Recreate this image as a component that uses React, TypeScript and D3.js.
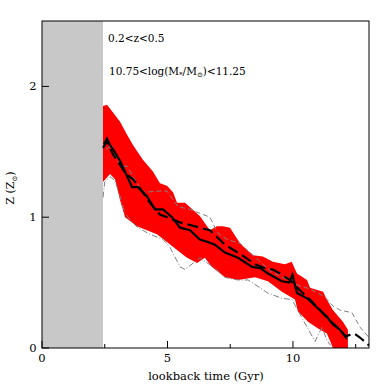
import React from "react";
import * as d3 from "d3";

// x = lookback time (Gyr), y = Z (Zsun)
const bandUpper: [number, number][] = [
  [2.43, 1.85], [2.59, 1.86], [2.83, 1.8], [3.11, 1.73], [3.39, 1.63], [3.63, 1.55],
  [4.02, 1.44], [4.42, 1.35], [4.7, 1.26], [4.98, 1.24], [5.22, 1.19], [5.38, 1.11],
  [5.7, 1.11], [6.29, 1.01], [6.69, 0.9], [6.97, 0.93], [7.21, 0.93], [7.49, 0.92],
  [7.89, 0.8], [8.17, 0.75], [8.41, 0.71], [8.8, 0.7], [9.2, 0.66], [9.68, 0.64],
  [9.95, 0.66], [10.16, 0.57], [10.56, 0.52], [10.68, 0.46], [11.2, 0.43], [11.35, 0.37],
  [11.59, 0.29], [11.99, 0.2], [12.19, 0.14], [12.19, 0],
];
const bandLower: [number, number][] = [
  [2.43, 1.27], [2.71, 1.33], [2.91, 1.29], [3.11, 1.13], [3.31, 1.0], [3.51, 0.97],
  [3.78, 0.93], [4.18, 0.9], [4.58, 0.87], [4.98, 0.81], [5.38, 0.75], [5.78, 0.69],
  [6.18, 0.65], [6.49, 0.69], [6.77, 0.62], [7.29, 0.54], [7.81, 0.52], [8.49, 0.54],
  [9.0, 0.51], [9.56, 0.43], [10.08, 0.37], [10.2, 0.28], [10.6, 0.2], [11.0, 0.15],
  [11.35, 0.11], [11.51, 0.04], [11.59, 0],
];
const medianLine: [number, number][] = [
  [2.47, 1.56], [2.59, 1.6], [2.71, 1.55], [2.83, 1.52], [3.11, 1.43], [3.35, 1.33],
  [3.59, 1.23], [3.82, 1.23], [4.18, 1.16], [4.5, 1.06], [4.82, 1.06], [5.18, 1.0],
  [5.5, 0.92], [5.9, 0.9], [6.29, 0.83], [6.61, 0.81], [6.89, 0.79], [7.29, 0.73],
  [7.81, 0.69], [8.37, 0.62], [8.7, 0.61], [9.0, 0.57], [9.56, 0.51], [9.85, 0.5],
  [9.98, 0.56], [10.16, 0.42], [10.56, 0.38], [10.96, 0.31], [11.35, 0.24], [11.59, 0.18],
  [11.87, 0.14], [12.15, 0.07],
];
const meanLine: [number, number][] = [
  [2.43, 1.53], [2.59, 1.58], [2.83, 1.48], [3.11, 1.4], [3.35, 1.33], [3.63, 1.29],
  [4.02, 1.19], [4.3, 1.11], [4.7, 1.02], [5.1, 0.99], [5.5, 0.96], [5.9, 0.94],
  [6.29, 0.92], [6.69, 0.9], [7.29, 0.79], [7.97, 0.71], [8.49, 0.64], [8.88, 0.61],
  [9.2, 0.6], [9.48, 0.57], [9.88, 0.52], [10.28, 0.44], [10.68, 0.37], [11.08, 0.29],
  [11.47, 0.21], [11.87, 0.14], [12.1, 0.09], [12.27, 0.1], [12.45, 0.11], [12.67, 0.08],
  [13.03, 0.02],
];
const upperGray: [number, number][] = [
  [2.55, 1.52], [2.79, 1.55], [3.0, 1.43], [3.19, 1.39], [3.39, 1.39], [3.63, 1.31],
  [4.02, 1.19], [4.7, 1.2], [4.98, 1.2], [5.42, 1.08], [5.9, 1.06], [6.29, 1.03],
  [6.69, 1.0], [7.0, 0.88], [7.37, 0.83], [7.89, 0.8], [8.57, 0.68], [9.16, 0.58],
  [9.7, 0.53], [10.2, 0.48], [10.7, 0.45], [11.27, 0.39], [11.6, 0.32], [11.87, 0.29],
  [12.35, 0.27], [12.67, 0.16], [13.03, 0.08],
];
const dashDotGray: [number, number][] = [
  [2.43, 1.15], [2.5, 1.27], [2.71, 1.31], [2.91, 1.28], [3.11, 1.16], [3.31, 1.03],
  [3.51, 0.98], [3.82, 0.92], [4.3, 0.87], [4.82, 0.83], [5.1, 0.77], [5.5, 0.62],
  [5.7, 0.6], [5.9, 0.63], [6.29, 0.69], [6.89, 0.61], [7.29, 0.54], [7.81, 0.52],
  [8.21, 0.52], [8.61, 0.47], [9.0, 0.42], [9.56, 0.38], [9.96, 0.37], [10.36, 0.23],
  [10.88, 0.05], [11.16, 0.16], [11.35, 0.06], [11.5, 0.02],
];

const greyLimit = 2.43;
const xMajor = [0, 5, 10];
const xMinor = [2.5, 7.5, 12.5];
const yMajor = [0, 1, 2];

const W = 390;
const H = 390;
const font = "DejaVu Serif";

const App = () => {
  const x = d3.scaleLinear().domain([0, 13.03]).range([42, 369]);
  const y = d3.scaleLinear().domain([0, 2.5]).range([348, 21]);
  const line = d3
    .line<[number, number]>()
    .x((d) => x(d[0]))
    .y((d) => y(d[1]));

  const band = [...bandUpper, ...bandLower.slice().reverse()];

  return (
    <svg
      width={W}
      height={H}
      style={{ position: "absolute", left: 0, top: 0, background: "#fff" }}
      fontFamily={font}
    >
      <defs>
        <clipPath id="plot">
          <rect x={42} y={21} width={327} height={327} />
        </clipPath>
      </defs>

      {/* excluded region */}
      <rect x={x(0)} y={y(2.5)} width={x(greyLimit) - x(0)} height={y(0) - y(2.5)} fill="#c8c8c8" />

      <g clipPath="url(#plot)">
        <path d={line(band) + "Z"} fill="#ff0000" stroke="none" />
        <path d={line(dashDotGray) ?? ""} fill="none" stroke="#808080" strokeWidth={1} strokeDasharray="6,2,1,2" />
        <path d={line(upperGray) ?? ""} fill="none" stroke="#808080" strokeWidth={1} strokeDasharray="5,3" />
        <path d={line(meanLine) ?? ""} fill="none" stroke="#000" strokeWidth={2.2} strokeDasharray="11,5" />
        <path d={line(medianLine) ?? ""} fill="none" stroke="#000" strokeWidth={2.2} />
      </g>

      {/* frame */}
      <rect x={42} y={21} width={327} height={327} fill="none" stroke="#000" strokeWidth={1} />

      {/* x ticks */}
      {xMajor.map((t) => (
        <g key={`xm-${t}`}>
          <line x1={x(t)} x2={x(t)} y1={348} y2={341} stroke="#000" />
          <text x={x(t)} y={362} textAnchor="middle" fontSize={11.5}>
            {t}
          </text>
        </g>
      ))}
      {xMinor.map((t) => (
        <line key={`xn-${t}`} x1={x(t)} x2={x(t)} y1={348} y2={344} stroke="#000" />
      ))}

      {/* y ticks */}
      {yMajor.map((t) => (
        <g key={`ym-${t}`}>
          <line x1={42} x2={49} y1={y(t)} y2={y(t)} stroke="#000" />
          <text x={33} y={y(t) + 4} textAnchor="middle" fontSize={11.5}>
            {t}
          </text>
        </g>
      ))}

      {/* axis labels */}
      <text x={206} y={380} textAnchor="middle" fontSize={11.5}>
        lookback time (Gyr)
      </text>
      <text transform="translate(14,188) rotate(-90)" textAnchor="middle" fontSize={11}>
        Z (Z
        <tspan fontSize={7} dy={3}>
          ⊙
        </tspan>
        <tspan dy={-3}>)</tspan>
      </text>

      {/* annotations */}
      <text x={108} y={42} fontSize={10.5}>
        0.2&lt;z&lt;0.5
      </text>
      <text x={109} y={75} fontSize={10.5}>
        10.75&lt;log(M
        <tspan fontSize={7} dy={2}>
          *
        </tspan>
        <tspan dy={-2}>/M</tspan>
        <tspan fontSize={7} dy={2}>
          ⊙
        </tspan>
        <tspan dy={-2}>)&lt;11.25</tspan>
      </text>
    </svg>
  );
};

export default App;
